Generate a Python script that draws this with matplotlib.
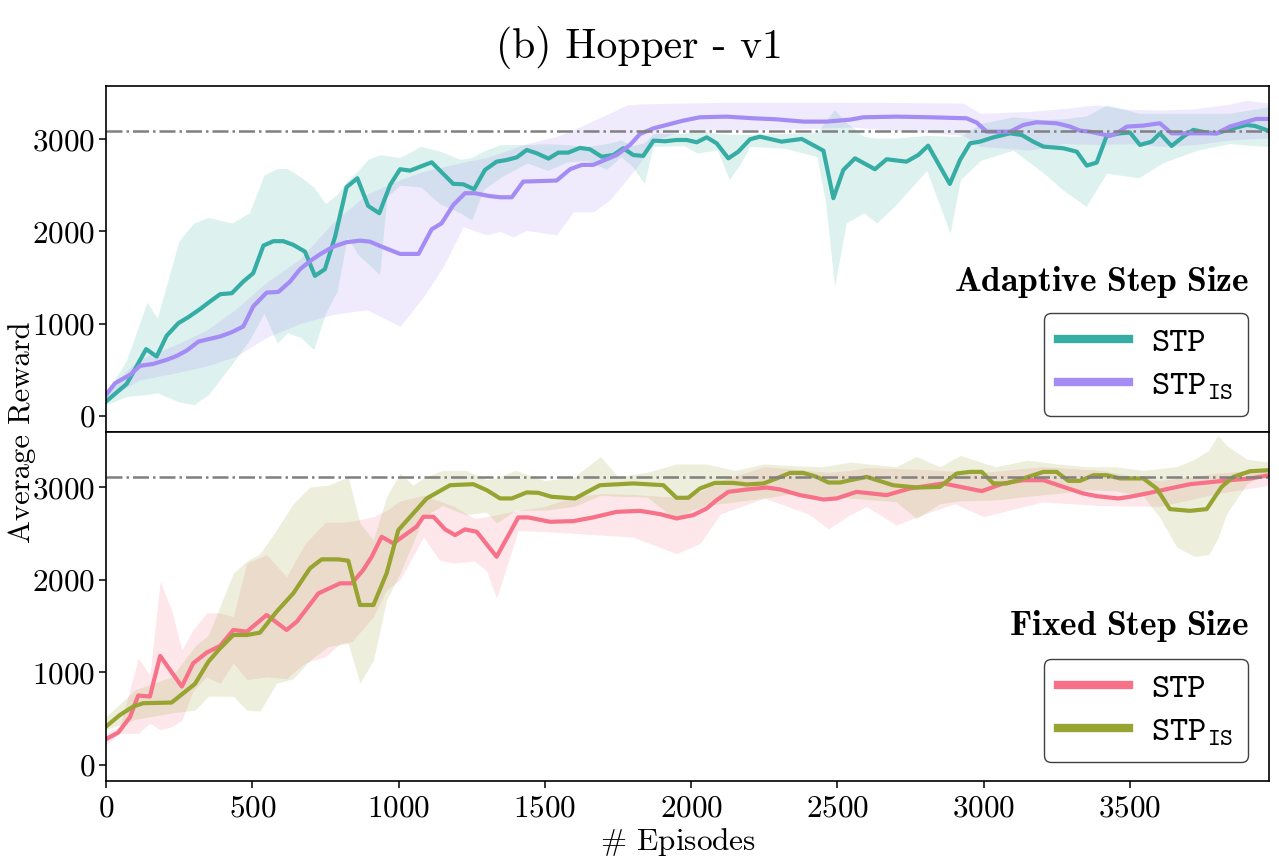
import numpy as np
import matplotlib
matplotlib.use("Agg")
import matplotlib.pyplot as plt

plt.rcParams['font.family'] = 'serif'
plt.rcParams['font.serif'] = ['cmr10']
plt.rcParams['mathtext.fontset'] = 'cm'
plt.rcParams['axes.formatter.use_mathtext'] = True

# colours (seaborn husl, 4)
c_pink, c_olive, c_teal, c_purple = '#f77189', '#97a431', '#36ada4', '#a48cf4'

# ---------------- top panel: adaptive step size ----------------
ad_stp_x = [0, 71, 137, 173, 207, 247, 281, 321, 355, 390, 430, 469, 503, 538, 572, 606,
            640, 680, 714, 748, 783, 822, 859, 896, 934, 971, 1005, 1039, 1113, 1187, 1221,
            1258, 1295, 1335, 1369, 1404, 1438, 1472, 1512, 1546, 1580, 1620, 1654, 1694,
            1734, 1768, 1802, 1836, 1871, 1910, 1950, 1985, 2019, 2053, 2087, 2127, 2161,
            2201, 2235, 2309, 2378, 2452, 2486, 2520, 2560, 2628, 2668, 2736, 2776, 2810,
            2884, 2919, 2953, 2987, 3033, 3090, 3130, 3169, 3204, 3272, 3318, 3352, 3386,
            3420, 3466, 3500, 3534, 3574, 3602, 3642, 3682, 3716, 3762, 3796, 3841, 3898,
            3927, 3975]
ad_stp_y = [155, 347, 723, 643, 867, 1004, 1069, 1156, 1238, 1318, 1329, 1455, 1546, 1845,
            1893, 1893, 1853, 1780, 1517, 1589, 1943, 2478, 2575, 2275, 2196, 2503, 2673,
            2658, 2748, 2514, 2510, 2456, 2665, 2755, 2773, 2802, 2882, 2846, 2788, 2853,
            2853, 2904, 2889, 2809, 2827, 2900, 2827, 2817, 2983, 2976, 2990, 2990, 2965,
            3019, 2954, 2791, 2863, 2997, 3026, 2972, 3001, 2874, 2359, 2665, 2791, 2673,
            2781, 2755, 2827, 2928, 2514, 2774, 2954, 2972, 3019, 3062, 3044, 2972, 2918,
            2900, 2863, 2712, 2745, 3034, 3062, 3070, 2936, 2972, 3062, 2925, 3026, 3099,
            3070, 3062, 3106, 3153, 3142, 3088]

ad_is_x = [0, 31, 82, 116, 162, 207, 242, 276, 316, 350, 390, 430, 469, 503, 549, 589, 629,
           663, 703, 737, 777, 822, 868, 902, 942, 1005, 1068, 1113, 1147, 1187, 1227, 1261,
           1307, 1347, 1387, 1426, 1540, 1586, 1626, 1665, 1705, 1745, 1791, 1825, 1871,
           1916, 1973, 2030, 2121, 2212, 2292, 2383, 2463, 2543, 2588, 2702, 2816, 2941,
           2976, 3010, 3090, 3135, 3181, 3249, 3295, 3329, 3363, 3431, 3454, 3489, 3545,
           3602, 3642, 3727, 3796, 3841, 3887, 3932, 3975]
ad_is_y = [228, 354, 444, 542, 563, 607, 650, 708, 805, 831, 860, 907, 968, 1185, 1336, 1343,
           1455, 1589, 1690, 1762, 1834, 1882, 1899, 1888, 1834, 1755, 1755, 2022, 2087,
           2286, 2413, 2413, 2384, 2369, 2369, 2539, 2550, 2673, 2720, 2720, 2773, 2827,
           2936, 3055, 3116, 3153, 3200, 3236, 3243, 3225, 3214, 3189, 3189, 3210, 3236,
           3243, 3236, 3225, 3178, 3080, 3080, 3153, 3182, 3171, 3135, 3091, 3080, 3034,
           3062, 3135, 3146, 3171, 3062, 3062, 3062, 3135, 3178, 3218, 3218]

ad_stp_bx = [0, 70, 140, 175, 250, 300, 350, 430, 490, 540, 585, 620, 665, 710, 750, 790, 825,
             860, 895, 935, 960, 1005, 1075, 1140, 1210, 1250, 1290, 1350, 1440, 1510, 1575,
             1645, 1710, 1760, 1800, 1840, 1870, 1975, 2020, 2090, 2130, 2170, 2200, 2320,
             2430, 2460, 2490, 2530, 2590, 2635, 2700, 2805, 2885, 2920, 2990, 3100, 3205,
             3270, 3350, 3420, 3530, 3610, 3730, 3840, 3975]
ad_stp_hi = [240, 600, 1230, 1060, 1900, 2090, 2150, 2090, 2200, 2610, 2680, 2680, 2590, 2480,
             2300, 2400, 2550, 2650, 2780, 2830, 2820, 2800, 2920, 2870, 2780, 2800, 2870,
             2940, 2940, 2950, 2940, 2920, 2950, 2990, 2930, 2960, 3060, 3060, 3100, 3060,
             3050, 3050, 3050, 3060, 3070, 3200, 3320, 3180, 3030, 3010, 3010, 3040, 3030,
             3030, 3170, 3240, 3210, 3220, 3250, 3370, 3280, 3280, 3280, 3280, 3350]
ad_stp_lo = [120, 210, 230, 250, 150, 120, 230, 560, 820, 1110, 790, 900, 850, 720, 1110, 1350,
             1940, 1750, 1650, 1530, 2370, 2500, 2480, 2300, 2200, 2120, 2450, 2590, 2740,
             2660, 2750, 2770, 2670, 2810, 2700, 2520, 2920, 2930, 2850, 2880, 2560, 2740,
             2920, 2900, 2810, 2300, 1400, 2090, 2200, 2090, 2290, 2660, 1980, 2560, 2770,
             2880, 2630, 2450, 2270, 2630, 2580, 2740, 2880, 2950, 2920]

ad_is_bx = [0, 116, 230, 344, 441, 549, 663, 777, 891, 1005, 1085, 1153, 1221, 1301, 1347,
            1392, 1438, 1540, 1597, 1665, 1722, 1780, 1825, 1882, 1973, 2144, 2372, 2543,
            2930, 2987, 3158, 3272, 3386, 3500, 3614, 3727, 3841, 3898, 3975]
ad_is_hi = [280, 620, 760, 930, 1150, 1450, 1700, 2100, 2400, 2560, 2650, 2700, 2750, 2800,
            2850, 2900, 2950, 3030, 3100, 3200, 3280, 3370, 3380, 3385, 3390, 3400, 3400,
            3400, 3390, 3280, 3300, 3330, 3370, 3320, 3315, 3330, 3380, 3420, 3390]
ad_is_lo = [180, 390, 460, 540, 640, 850, 1000, 1100, 1150, 970, 1290, 1620, 2050, 1960, 2000,
            1940, 2010, 1960, 2210, 2210, 2340, 2560, 2740, 2990, 3100, 3100, 3110, 3130,
            3040, 2920, 2880, 2950, 2940, 2950, 2920, 2940, 2990, 3000, 3010]

# ---------------- bottom panel: fixed step size ----------------
fx_stp_x = [0, 42, 82, 110, 150, 185, 259, 298, 344, 390, 435, 481, 549, 617, 652, 726, 800,
            840, 879, 908, 942, 982, 1061, 1085, 1119, 1159, 1193, 1227, 1267, 1335, 1409,
            1443, 1517, 1597, 1665, 1745, 1825, 1893, 1950, 2007, 2053, 2087, 2127, 2190,
            2258, 2304, 2372, 2452, 2497, 2565, 2668, 2748, 2862, 2993, 3067, 3135, 3204,
            3272, 3340, 3386, 3460, 3500, 3568, 3636, 3705, 3784, 3841, 3910, 3975]
fx_stp_y = [277, 349, 515, 748, 737, 1176, 845, 1097, 1212, 1284, 1456, 1438, 1618, 1456,
            1546, 1852, 1960, 1960, 2104, 2247, 2463, 2392, 2571, 2679, 2679, 2543, 2481,
            2543, 2517, 2247, 2672, 2672, 2625, 2632, 2672, 2732, 2743, 2708, 2661, 2697,
            2769, 2859, 2948, 2974, 2995, 2974, 2913, 2866, 2877, 2948, 2913, 2985, 3039,
            2956, 3039, 3074, 3074, 3002, 2931, 2902, 2877, 2895, 2938, 2985, 3031, 3056,
            3074, 3092, 3128]

fx_is_x = [0, 48, 93, 127, 224, 264, 304, 350, 390, 435, 481, 526, 583, 640, 697, 737, 794,
           828, 868, 914, 959, 999, 1050, 1096, 1176, 1255, 1301, 1347, 1387, 1438, 1477,
           1523, 1603, 1688, 1802, 1905, 1950, 1990, 2030, 2081, 2144, 2190, 2247, 2292,
           2338, 2383, 2429, 2469, 2509, 2543, 2600, 2690, 2770, 2850, 2907, 2953, 2993,
           3033, 3078, 3135, 3204, 3249, 3289, 3329, 3375, 3420, 3466, 3545, 3591, 3636,
           3705, 3762, 3813, 3853, 3910, 3975]
fx_is_y = [413, 539, 629, 665, 672, 773, 874, 1114, 1259, 1402, 1402, 1427, 1654, 1852, 2122,
           2219, 2219, 2204, 1726, 1726, 2068, 2535, 2715, 2877, 3020, 3031, 2967, 2877,
           2877, 2942, 2938, 2895, 2877, 3020, 3039, 3020, 2884, 2884, 2985, 3045, 3045,
           3028, 3039, 3093, 3153, 3153, 3110, 3049, 3049, 3074, 3110, 3020, 2995, 3002,
           3146, 3164, 3164, 3039, 3039, 3093, 3164, 3164, 3067, 3067, 3128, 3128, 3093,
           3093, 2985, 2762, 2743, 2762, 3002, 3110, 3171, 3182]

fx_stp_bx = [0, 48, 110, 150, 185, 224, 259, 298, 344, 390, 435, 481, 549, 617, 680, 750, 800,
             840, 914, 959, 1005, 1085, 1140, 1190, 1260, 1300, 1335, 1409, 1500, 1600, 1700,
             1800, 1900, 1950, 2030, 2100, 2250, 2400, 2470, 2543, 2600, 2700, 2800, 2900,
             3000, 3200, 3400, 3600, 3800, 3975]
fx_stp_hi = [330, 420, 1150, 970, 1980, 1670, 1240, 1460, 1640, 1640, 1600, 2180, 2270, 2030,
             2390, 2620, 2620, 2630, 2680, 2750, 2850, 2910, 2850, 2790, 2660, 2680, 2700,
             2750, 2790, 2900, 2930, 2920, 2900, 2890, 2950, 3070, 3220, 3180, 3160, 3180,
             3210, 3200, 3190, 3170, 3160, 3220, 3180, 3070, 3150, 3200]
fx_stp_lo = [215, 340, 340, 450, 380, 410, 480, 800, 950, 880, 1100, 920, 950, 930, 1100, 1170,
             1310, 1330, 1600, 1890, 2000, 2460, 2210, 2180, 2200, 2100, 1800, 2530, 2520,
             2500, 2480, 2460, 2340, 2280, 2390, 2710, 2880, 2710, 2550, 2700, 2790, 2590,
             2710, 2820, 2680, 2840, 2800, 2790, 2930, 3020]

fx_is_bx = [0, 100, 224, 304, 350, 435, 481, 526, 583, 640, 697, 760, 828, 868, 914, 959, 1005,
            1050, 1085, 1150, 1230, 1300, 1335, 1400, 1500, 1600, 1690, 1750, 1850, 1950,
            2000, 2050, 2150, 2250, 2350, 2450, 2543, 2700, 2770, 2850, 2920, 3040, 3150,
            3250, 3350, 3450, 3545, 3600, 3660, 3720, 3770, 3800, 3830, 3900, 3975]
fx_is_hi = [520, 810, 950, 1280, 1400, 2070, 2200, 2280, 2540, 2820, 3000, 3020, 3110, 2610,
            2430, 2900, 3150, 3020, 3100, 3180, 3180, 3080, 3100, 3180, 3070, 3110, 3330,
            3110, 3160, 3250, 3250, 3250, 3180, 3250, 3230, 3220, 3270, 3220, 3330, 3220,
            3340, 3220, 3290, 3250, 3220, 3220, 3180, 3200, 3220, 3300, 3400, 3560, 3450,
            3300, 3270]
fx_is_lo = [380, 490, 560, 590, 740, 740, 590, 580, 880, 930, 1130, 1280, 1310, 880, 1130, 1780,
            2070, 2400, 2680, 2800, 2700, 2730, 2610, 2750, 2750, 2790, 2910, 2900, 2890,
            2640, 2750, 2800, 2840, 2880, 2930, 2900, 2880, 2840, 2660, 2820, 2850, 2860,
            2900, 2930, 2970, 2960, 2900, 2680, 2350, 2250, 2270, 2450, 2710, 3040, 3150]

ref_top = 3087
ref_bot = 3112

fig = plt.figure(figsize=(12.79, 8.6), dpi=100)
ax1 = fig.add_axes([0.0829, 0.4977, 0.9093, 0.4023])
ax2 = fig.add_axes([0.0829, 0.0919, 0.9093, 0.4058], sharex=ax1)

panels = [
    (ax1, ref_top, (-175, 3575), 'Adaptive Step Size', 0.434, 0.047,
     [(ad_stp_x, ad_stp_y, ad_stp_bx, ad_stp_lo, ad_stp_hi, c_teal),
      (ad_is_x, ad_is_y, ad_is_bx, ad_is_lo, ad_is_hi, c_purple)]),
    (ax2, ref_bot, (-175, 3595), 'Fixed Step Size', 0.445, 0.055,
     [(fx_stp_x, fx_stp_y, fx_stp_bx, fx_stp_lo, fx_stp_hi, c_pink),
      (fx_is_x, fx_is_y, fx_is_bx, fx_is_lo, fx_is_hi, c_olive)]),
]

labels = ['STP', r'STP$_{\mathtt{IS}}$']

for ax, ref, ylim, name, ty, ly, series in panels:
    for (x, y, bx, lo, hi, col) in series:
        ax.fill_between(bx, lo, hi, color=col, alpha=0.17, lw=0)
    handles = []
    for (x, y, bx, lo, hi, col), lab in zip(series, labels):
        h, = ax.plot(x, y, color=col, lw=3.0, label=lab)
        handles.append(h)
    ax.axhline(ref, color='#808080', ls='-.', lw=1.8)
    ax.set_ylim(*ylim)
    ax.set_xlim(0, 3975)
    ax.set_yticks([0, 1000, 2000, 3000])
    ax.tick_params(labelsize=22.5, length=5, width=1.1, pad=2.5)
    for s in ax.spines.values():
        s.set_linewidth(1.2)
    leg = ax.legend(handles=handles, loc='lower right', bbox_to_anchor=(0.9817, ly),
                    prop={'family': 'cmtt10', 'size': 25}, frameon=True,
                    fancybox=True, edgecolor='0.25', framealpha=1, handlelength=2.05,
                    handletextpad=0.65, borderaxespad=0, borderpad=0.4,
                    labelspacing=0.3)
    leg.get_frame().set_linewidth(1.0)
    for lh in leg.legend_handles:
        lh.set_linewidth(6)
    ax.text(0.983, ty, r'$\mathbf{%s}$' % name.replace(' ', r'\ '), transform=ax.transAxes,
            ha='right', va='center', fontsize=25.5)

ax1.tick_params(axis='x', labelbottom=False, length=0)
ax2.set_xticks([0, 500, 1000, 1500, 2000, 2500, 3000, 3500])
ax2.tick_params(axis='x', pad=5)
ax2.set_xlabel(r'$\#$ Episodes', fontsize=22.5, labelpad=2, x=0.4915)

fig.text(0.017, 0.4977, 'Average Reward', rotation=90, ha='center', va='center', fontsize=22)
fig.text(0.5, 0.945, '(b) Hopper - v1', ha='center', va='center', fontsize=30)

fig.savefig('out.png', dpi=100)
